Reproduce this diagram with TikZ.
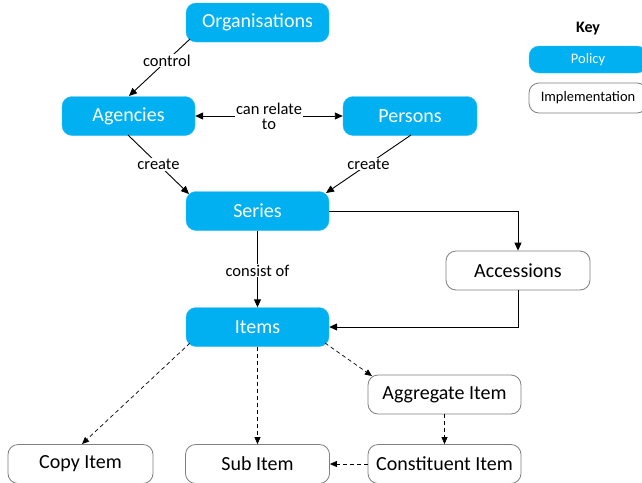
\documentclass[tikz,border=0pt]{standalone}
\usepackage{fontspec}
\setmainfont{Carlito}
\usetikzlibrary{arrows.meta}
\definecolor{policyblue}{HTML}{00B0F0}
\definecolor{implgray}{HTML}{7F7F7F}
\begin{document}
\begin{tikzpicture}[x=1pt,y=-1pt,
  policy/.style={rectangle,rounded corners=10pt,fill=policyblue,draw=policyblue!80!white,text=white,font=\fontsize{20}{24}\selectfont,inner sep=0pt},
  impl/.style={rectangle,rounded corners=10pt,fill=white,draw=implgray,line width=0.8pt,text=black,font=\fontsize{20}{24}\selectfont,inner sep=0pt},
  lbl/.style={fill=white,font=\fontsize{16.5}{19}\selectfont,inner sep=1pt,align=center},
  conn/.style={draw=black,line width=0.9pt,-{Triangle[length=8pt,width=7pt]}},
  dconn/.style={draw=black,line width=0.7pt,dashed,dash pattern=on 4pt off 3pt,-{Triangle[length=7pt,width=6pt]}},
  keyp/.style={policy,font=\fontsize{14.5}{17}\selectfont},
  keyi/.style={impl,font=\fontsize{14.5}{17}\selectfont}]
\useasboundingbox (0,0) rectangle (642,482);
\clip (0,0) rectangle (642,482);
% nodes
\node[policy,minimum width=143pt,minimum height=39pt] (org) at (257.5,22.5) {Organisations};
\node[policy,minimum width=133pt,minimum height=39pt] (ag) at (128.5,116) {Agencies};
\node[policy,minimum width=134pt,minimum height=39pt] (per) at (410,116) {Persons};
\node[policy,minimum width=143pt,minimum height=39pt] (ser) at (257.5,211) {Series};
\node[impl,minimum width=144pt,minimum height=39pt] (acc) at (518,270.5) {Accessions};
\node[policy,minimum width=143pt,minimum height=39pt] (it) at (257.5,327) {Items};
\node[impl,minimum width=153pt,minimum height=39pt] (agg) at (444.5,394.5) {Aggregate Item};
\node[impl,minimum width=153pt,minimum height=39pt] (con) at (444.5,464) {Constituent Item};
\node[impl,minimum width=145pt,minimum height=39pt] (copy) at (80.5,464) {Copy Item};
\node[impl,minimum width=144pt,minimum height=39pt] (sub) at (257.5,464) {Sub Item};
% key
\node[font=\bfseries\fontsize{16}{19}\selectfont] (key) at (588,29) {Key};
\node[keyp,minimum width=118pt,minimum height=27pt] (kp) at (588,59.5) {Policy};
\node[keyi,minimum width=118pt,minimum height=30pt] (ki) at (588,98) {Implementation};
% connectors
\coordinate (orgA) at (190,39);
\coordinate (agT) at (129,96);
\draw[conn] (orgA) -- node[lbl,pos=0.38] (lctrl) {control} (agT);
\draw[conn,{Triangle[length=8pt,width=7pt]}-{Triangle[length=8pt,width=7pt]}] (ag.east) -- node[lbl] (lrel) {can relate\\[-4pt]to} (per.west);
\coordinate (agB) at (128,135);
\coordinate (serL) at (189,194);
\draw[conn] (agB) -- node[lbl,pos=0.5] (lcr1) {create} (serL);
\coordinate (perB) at (411,135);
\coordinate (serR) at (326,193);
\draw[conn] (perB) -- node[lbl,pos=0.5] (lcr2) {create} (serR);
\draw[conn] (ser.east) -| (acc.north);
\draw[conn] (acc.south) |- (it.east);
\draw[conn] (ser.south) -- node[lbl,pos=0.52] (lcons) {consist of} (it.north);
\coordinate (itBL) at (190,343);
\coordinate (copyT) at (82,444);
\draw[dconn] (itBL) -- (copyT);
\draw[dconn] (it.south) -- (sub.north);
\coordinate (itBR) at (325,343);
\coordinate (aggT) at (372,376);
\draw[dconn] (itBR) -- (aggT);
\draw[dconn] (agg.south) -- (con.north);
\draw[dconn] (con.west) -- (sub.east);
\end{tikzpicture}
\end{document}
